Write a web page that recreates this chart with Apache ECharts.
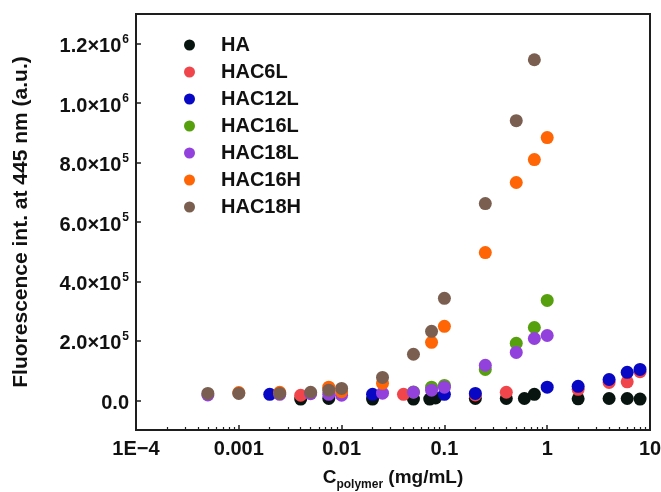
<!DOCTYPE html>
<html>
<head>
<meta charset="utf-8">
<script src="https://cdn.jsdelivr.net/npm/echarts@6/dist/echarts.min.js"></script>
<style>
  html, body { margin: 0; padding: 0; background: #fff; }
  #chart { width: 661px; height: 492px; }
</style>
</head>
<body>
<div id="chart"></div>
<script>
// Fluorescence intensity at 445 nm versus polymer concentration
const seriesNames = ['HA', 'HAC6L', 'HAC12L', 'HAC16L', 'HAC18L', 'HAC16H', 'HAC18H'];
const seriesColors = ['#07140f', '#f0454a', '#0808c4', '#56a00e', '#9341dd', '#ff6405', '#7a5e50'];

const haX = [0.004, 0.0075, 0.02, 0.05, 0.072, 0.082, 0.2, 0.4, 0.6, 0.75, 2, 4, 6, 8];
const haY = [4e3, 6e3, 4e3, 4e3, 4e3, 8e3, 6e3, 6e3, 6e3, 2.0e4, 5e3, 6e3, 6e3, 4e3];

const hac6lX = [0.004, 0.04, 0.2, 0.4, 2, 4, 6, 8];
const hac6lY = [1.7e4, 2.0e4, 1.8e4, 2.7e4, 3.7e4, 6.0e4, 6.2e4, 9.6e4];

const hac12lX = [0.002, 0.02, 0.1, 0.2, 1, 2, 4, 6, 8];
const hac12lY = [2.0e4, 2.0e4, 2.0e4, 2.3e4, 4.4e4, 4.7e4, 7.0e4, 9.4e4, 1.04e5];

const hac16lX = [0.05, 0.075, 0.1, 0.25, 0.5, 0.75, 1];
const hac16lY = [2.8e4, 4.4e4, 5.0e4, 1.04e5, 1.92e5, 2.45e5, 3.36e5];

const hac18lX = [0.0005, 0.0025, 0.005, 0.0075, 0.01, 0.025, 0.05, 0.075, 0.1, 0.25, 0.5, 0.75, 1];
const hac18lY = [1.8e4, 2.0e4, 2.2e4, 2.0e4, 1.7e4, 2.4e4, 2.7e4, 3.4e4, 4.4e4, 1.18e5, 1.61e5, 2.08e5, 2.18e5];

const hac16hX = [0.001, 0.0025, 0.0075, 0.01, 0.025, 0.075, 0.1, 0.25, 0.5, 0.75, 1];
const hac16hY = [2.6e4, 2.7e4, 4.4e4, 2.9e4, 5.7e4, 1.95e5, 2.49e5, 4.97e5, 7.33e5, 8.10e5, 8.84e5];

const hac18hX = [0.0005, 0.001, 0.0025, 0.005, 0.0075, 0.01, 0.025, 0.05, 0.075, 0.1, 0.25, 0.5, 0.75];
const hac18hY = [2.3e4, 2.3e4, 2.3e4, 2.7e4, 3.4e4, 4.0e4, 7.7e4, 1.55e5, 2.32e5, 3.43e5, 6.62e5, 9.41e5, 1.146e6];

const xTickValues = [1e-4, 1e-3, 1e-2, 1e-1, 1, 10];
const xTickLabels = ['1E\u22124', '0.001', '0.01', '0.1', '1', '10'];
const xMinorTickValues = [];
for (let d = 0; d < xTickValues.length - 1; d++) {
  for (let k = 2; k <= 9; k++) xMinorTickValues.push(+(xTickValues[d] * k).toPrecision(6));
}
const yTickValues = [0, 2e5, 4e5, 6e5, 8e5, 1e6, 1.2e6];

const xs = [haX, hac6lX, hac12lX, hac16lX, hac18lX, hac16hX, hac18hX];
const ys = [haY, hac6lY, hac12lY, hac16lY, hac18lY, hac16hY, hac18hY];

const FONT = 'Liberation Sans, Arial, sans-serif';
const INK = '#111';
const AXIS = '#1e1e1e';

function xLabel(v) {
  for (let i = 0; i < xTickValues.length; i++) {
    if (Math.abs(Math.log10(v) - Math.log10(xTickValues[i])) < 1e-6) return xTickLabels[i];
  }
  return '';
}
function yLabel(v) {
  if (v === 0) return '{m|0.0}';
  const e = Math.floor(Math.log10(v) + 1e-9);
  const m = (v / Math.pow(10, e)).toFixed(1);
  return '{m|' + m + '\u00d710}{e|' + e + '}';
}

const chart = echarts.init(document.getElementById('chart'), null, { renderer: 'canvas' });
chart.setOption({
  animation: false,
  backgroundColor: '#fff',
  textStyle: { fontFamily: FONT },
  grid: {
    left: 136, right: 11, top: 14, bottom: 62,
    outerBoundsMode: 'none', containLabel: false,
    show: true, borderColor: AXIS, borderWidth: 2, backgroundColor: 'transparent'
  },
  legend: {
    orient: 'vertical',
    left: 179, top: 30,
    itemWidth: 11, itemHeight: 11, itemGap: 7,
    icon: 'circle',
    data: seriesNames,
    textStyle: {
      fontFamily: FONT, fontWeight: 'bold', fontSize: 20, color: INK,
      lineHeight: 20, padding: [0, 0, 0, 21]
    }
  },
  xAxis: [
    {
      type: 'log', logBase: 10, min: 1e-4, max: 10, position: 'bottom',
      name: '{c|C}{s|polymer}{c| (mg/mL)}',
      nameLocation: 'middle', nameGap: 38,
      nameTextStyle: {
        rich: {
          c: { fontFamily: FONT, fontWeight: 'bold', fontSize: 19, lineHeight: 19, color: INK, verticalAlign: 'top' },
          s: { fontFamily: FONT, fontWeight: 'bold', fontSize: 12, lineHeight: 12, color: INK, verticalAlign: 'top', padding: [11, 0, 0, 0] }
        }
      },
      axisLine: { show: true, onZero: false, lineStyle: { color: AXIS, width: 2 } },
      axisTick: { show: true, inside: true, length: 5, customValues: xTickValues, lineStyle: { color: AXIS, width: 1.5 } },
      axisLabel: {
        customValues: xTickValues, formatter: xLabel, margin: 9,
        fontFamily: FONT, fontWeight: 'bold', fontSize: 20, color: INK
      },
      splitLine: { show: false },
      minorTick: { show: false }
    },
    {
      type: 'log', logBase: 10, min: 1e-4, max: 10, position: 'bottom',
      axisLine: { show: false, onZero: false },
      axisTick: { show: true, inside: true, length: 3, customValues: xMinorTickValues, lineStyle: { color: AXIS, width: 1.2 } },
      axisLabel: { show: false },
      splitLine: { show: false }
    }
  ],
  yAxis: {
    type: 'value', min: -1e5, max: 1.3e6,
    name: 'Fluorescence int. at 445 nm (a.u.)',
    nameLocation: 'middle', nameGap: 104, nameRotate: 90,
    nameTextStyle: { fontFamily: FONT, fontWeight: 'bold', fontSize: 21, color: INK },
    axisLine: { show: true, onZero: false, lineStyle: { color: AXIS, width: 2 } },
    axisTick: { show: true, inside: true, length: 5, customValues: yTickValues, lineStyle: { color: AXIS, width: 1.5 } },
    axisLabel: {
      customValues: yTickValues, formatter: yLabel, margin: 7,
      rich: {
        m: { fontFamily: FONT, fontWeight: 'bold', fontSize: 20, lineHeight: 20, color: INK, verticalAlign: 'top', padding: [3, 0, 0, 0] },
        e: { fontFamily: FONT, fontWeight: 'bold', fontSize: 12, lineHeight: 12, color: INK, verticalAlign: 'top', padding: [0, 0, 0, 1] }
      }
    },
    splitLine: { show: false }
  },
  series: seriesNames.map((name, i) => ({
    name: name,
    type: 'scatter',
    xAxisIndex: 0,
    symbol: 'circle',
    symbolSize: 13,
    itemStyle: { color: seriesColors[i], opacity: 1 },
    emphasis: { disabled: true },
    data: xs[i].map((x, j) => [x, ys[i][j]])
  }))
});
</script>
</body>
</html>
